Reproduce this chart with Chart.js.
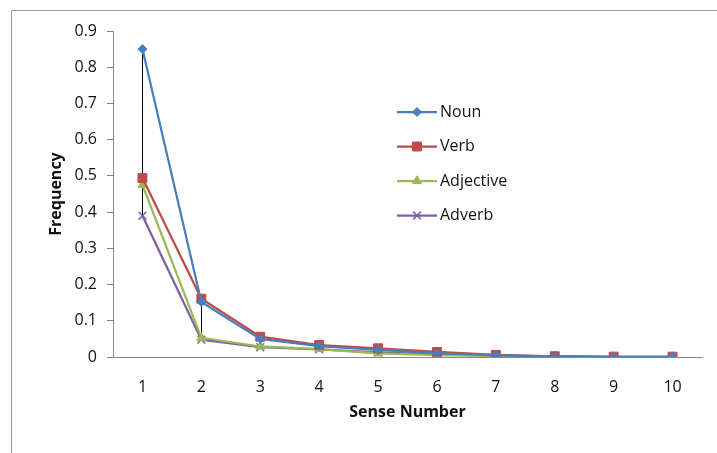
<!DOCTYPE html>
<html>
<head>
<meta charset="utf-8">
<title>Sense frequency</title>
<script src="https://cdn.jsdelivr.net/npm/chart.js@4.4.1/dist/chart.umd.min.js"></script>
<style>
  html, body { margin: 0; padding: 0; background: #fff; overflow: hidden; }
  #wrap { position: relative; width: 717px; height: 453px; }
  #frame {
    position: absolute; left: 11px; top: 10px; width: 800px; height: 600px;
    border-left: 1px solid #9a9a9a; border-top: 1px solid #9a9a9a;
    pointer-events: none;
  }
  canvas { position: absolute; left: 0; top: 0; }
</style>
</head>
<body>
<div id="wrap">
  <div id="frame"></div>
  <canvas id="chart" width="717" height="453"></canvas>
</div>
<script>
// ─── Data ────────────────────────────────────────────
var senses = ['1', '2', '3', '4', '5', '6', '7', '8', '9', '10'];
var yTickLabels = ['0', '0.1', '0.2', '0.3', '0.4', '0.5', '0.6', '0.7', '0.8', '0.9'];

var noun      = [0.850, 0.152, 0.050, 0.030, 0.020, 0.010, 0.005, 0.001, 0.000, 0.000];
var verb      = [0.494, 0.161, 0.056, 0.033, 0.024, 0.014, 0.006, 0.002, 0.001, 0.001];
var adjective = [0.475, 0.053, 0.029, 0.022, 0.010, 0.005, 0.003, 0.001, 0.000, 0.000];
var adverb    = [0.390, 0.048, 0.027, 0.021, 0.013, 0.007, 0.004, 0.001, 0.000, 0.000];

var FONT = '"Open Sans", "Liberation Sans", sans-serif';
var TEXT = '#111';
var AXIS_GRAY = '#868686';

// ─── High-low lines (Excel style) ────────────────────
var highLowLines = {
  id: 'highLowLines',
  beforeDatasetsDraw: function(chart) {
    var ctx = chart.ctx;
    var xs = chart.scales.x, ys = chart.scales.y;
    var sets = chart.data.datasets;
    ctx.save();
    ctx.strokeStyle = '#000';
    ctx.lineWidth = 1;
    for (var i = 0; i < senses.length; i++) {
      var vals = sets.map(function(d) { return d.data[i]; });
      var hi = Math.max.apply(null, vals), lo = Math.min.apply(null, vals);
      var x = Math.round(xs.getPixelForValue(i)) + 0.5;
      ctx.beginPath();
      ctx.moveTo(x, ys.getPixelForValue(hi));
      ctx.lineTo(x, ys.getPixelForValue(lo));
      ctx.stroke();
    }
    ctx.restore();
  }
};

// ─── Legend drawn inside the plot ────────────────────
var innerLegend = {
  id: 'innerLegend',
  afterDraw: function(chart) {
    var ctx = chart.ctx;
    var x0 = 397, x1 = 437, y0 = 112, gap = 34.5;
    ctx.save();
    chart.data.datasets.forEach(function(ds, i) {
      var y = y0 + i * gap;
      ctx.strokeStyle = ds.borderColor;
      ctx.lineWidth = 2.25;
      ctx.beginPath();
      ctx.moveTo(x0, y);
      ctx.lineTo(x1, y);
      ctx.stroke();
      ctx.fillStyle = ds.pointBackgroundColor;
      ctx.strokeStyle = ds.pointBorderColor;
      ctx.lineWidth = ds.pointBorderWidth;
      Chart.helpers.drawPoint(ctx, {
        pointStyle: ds.pointStyle, radius: ds.pointRadius, rotation: 0, borderWidth: ds.pointBorderWidth
      }, (x0 + x1) / 2, y);
      ctx.fillStyle = TEXT;
      ctx.font = '16px ' + FONT;
      ctx.textBaseline = 'middle';
      ctx.textAlign = 'left';
      ctx.fillText(ds.label, x1 + 3, y);
    });
    ctx.restore();
  }
};

function series(label, data, color, style, radius, bw) {
  return {
    label: label, data: data,
    borderColor: color, backgroundColor: color,
    borderWidth: 2.25, tension: 0,
    pointStyle: style, pointRadius: radius, pointHoverRadius: radius,
    pointBackgroundColor: color, pointBorderColor: color, pointBorderWidth: bw
  };
}

new Chart(document.getElementById('chart').getContext('2d'), {
  type: 'line',
  data: {
    labels: senses,
    datasets: [
      series('Noun', noun, '#4A7EBB', 'rectRot', 4.5, 1),
      series('Verb', verb, '#BE4B48', 'rect', 6.3, 1),
      series('Adjective', adjective, '#98B954', 'triangle', 5.2, 1),
      series('Adverb', adverb, '#7D60A0', 'crossRot', 5.5, 1.5)
    ]
  },
  options: {
    responsive: false, animation: false,
    layout: { padding: { left: 0, top: 31, right: 15, bottom: 0 } },
    plugins: { legend: { display: false }, tooltip: { enabled: false } },
    scales: {
      x: {
        type: 'category', offset: true,
        grid: { display: false },
        border: { color: AXIS_GRAY, width: 1 },
        ticks: { color: TEXT, padding: 13, maxRotation: 0, font: { family: FONT, size: 16 } },
        title: { display: true, text: 'Sense Number', color: TEXT,
                 padding: { top: 0, bottom: 31 }, font: { family: FONT, size: 16, weight: 'bold' } },
        afterFit: function(s) { s.height = 96; }
      },
      y: {
        min: 0, max: 0.9,
        grid: { drawOnChartArea: false, drawTicks: true, tickLength: 6, color: AXIS_GRAY },
        border: { color: AXIS_GRAY, width: 1 },
        ticks: {
          stepSize: 0.1, padding: 10, color: TEXT, font: { family: FONT, size: 16 },
          callback: function(v, i) { return yTickLabels[i]; }
        },
        title: { display: true, text: 'Frequency', color: TEXT,
                 padding: { top: 47, bottom: 0 }, font: { family: FONT, size: 16, weight: 'bold' } },
        afterFit: function(s) { s.width = 113; }
      }
    }
  },
  plugins: [highLowLines, innerLegend]
});
</script>
</body>
</html>
